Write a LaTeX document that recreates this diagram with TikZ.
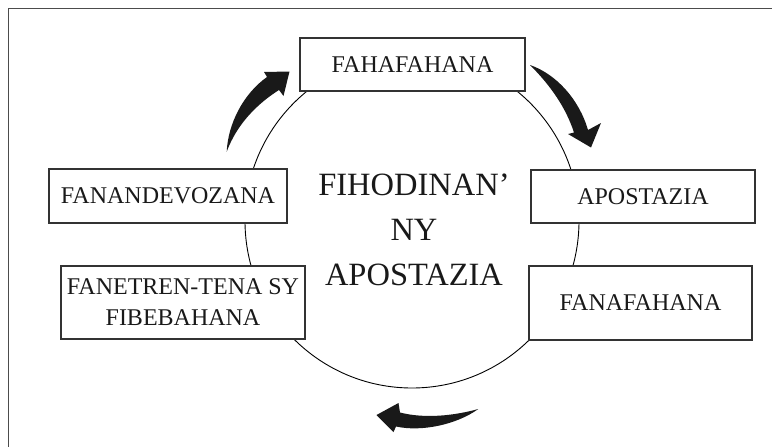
\documentclass[tikz,border=0pt]{standalone}
\usepackage{fontspec}
\setmainfont{Liberation Serif}
\usepackage{tikz}
\tikzset{
  stage/.style = {draw=black!80, line width=1.1pt, fill=white, inner sep=0pt,
    align=center, text=black!90, font=\fontsize{24}{31}\selectfont},
  swoosh/.style = {fill=black!90, draw=none},
  frame line/.style = {draw=black!70, line width=1.6pt}
}

\begin{document}
\begin{tikzpicture}[x=1pt,y=-1pt]

  \useasboundingbox (0,0) rectangle (772,447);

  \draw[frame line] (772,8.5) -- (8.5,8.5) -- (8.5,447);

  \draw[line width=0.9pt] (412,221) circle[radius=167];

  \node[stage, minimum width=225pt, minimum height=53pt] (fahafahana) at (412.5,64.5) {FAHAFAHANA};
  \node[stage, minimum width=224pt, minimum height=53pt] (apostazia) at (643,196.5) {APOSTAZIA};
  \node[stage, minimum width=223pt, minimum height=74pt] (fanafahana) at (640.5,303) {FANAFAHANA};
  \node[stage, minimum width=244pt, minimum height=73pt] (fanetrentena) at (183,302.5) {FANETREN-TENA SY\\FIBEBAHANA};
  \node[stage, minimum width=238pt, minimum height=54pt] (fanandevozana) at (168,196) {FANANDEVOZANA};

  \node[align=center, text=black!90, font=\fontsize{32.5}{45}\selectfont] (fihodinana) at (414,230) {FIHODINAN’\\NY\\APOSTAZIA};

  \fill[swoosh] (226.7,151.7) .. controls (228,124) and (243,94) .. (267,77)
    -- (264,72) -- (289.5,71.5) -- (283.5,96) -- (279,90)
    .. controls (257,104) and (237,124) .. (226.7,151.7) -- cycle;

  \fill[swoosh] (530,65) .. controls (556,74) and (579,99) .. (588,130)
    -- (601,123) -- (591,147.5) -- (568,134) -- (574,132.5)
    .. controls (566,108) and (551,86) .. (530,65) -- cycle;

  \fill[swoosh] (478.3,409) .. controls (455,415.5) and (425,419) .. (400,412.5)
    -- (398.5,403) -- (376.5,415) -- (393.5,432) -- (396,426.5)
    .. controls (421,432) and (456,425) .. (478.3,409) -- cycle;
\end{tikzpicture}
\end{document}
